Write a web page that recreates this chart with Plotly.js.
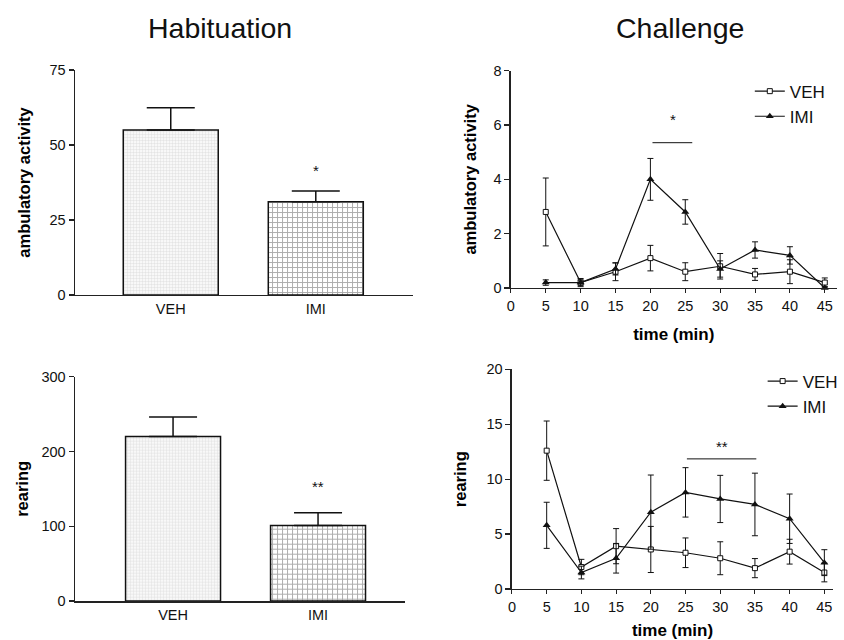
<!DOCTYPE html>
<html>
<head>
<meta charset="utf-8">
<script src="https://cdn.plot.ly/plotly-3.0.1.min.js"></script>
<style>html,body{margin:0;padding:0;background:#fff}#chart{width:844px;height:640px}</style>
</head>
<body>
<div id="chart"></div>
<script>
// ---- data ----
const groups = ["VEH", "IMI"];
const habAmbMean = [55, 31.1];
const habAmbSem = [7.4, 3.6];
const habRearMean = [220, 101];
const habRearSem = [26, 17];

const time = [5, 10, 15, 20, 25, 30, 35, 40, 45];
const ambVEH = [2.8, 0.2, 0.6, 1.1, 0.6, 0.8, 0.5, 0.6, 0.2];
const ambVEHsem = [1.25, 0.15, 0.33, 0.47, 0.33, 0.47, 0.22, 0.44, 0.17];
const ambIMI = [0.2, 0.2, 0.7, 4.0, 2.8, 0.7, 1.4, 1.2, 0.0];
const ambIMIsem = [0.1, 0.1, 0.22, 0.77, 0.45, 0.3, 0.3, 0.32, 0.05];

const rearVEH = [12.6, 2.0, 3.9, 3.6, 3.3, 2.8, 1.9, 3.4, 1.5];
const rearVEHsem = [2.7, 0.7, 1.6, 2.1, 1.35, 1.5, 0.87, 1.13, 0.85];
const rearIMI = [5.8, 1.5, 2.8, 7.0, 8.8, 8.2, 7.7, 6.4, 2.4];
const rearIMIsem = [2.1, 0.58, 1.35, 3.38, 2.25, 2.15, 2.85, 2.25, 1.18];

// significance marks
const sigAmb = {x0: 20.3, x1: 26, y: 5.35, starX: 23.2, starY: 6.2, text: "*"};
const sigRear = {x0: 25.2, x1: 35.2, y: 11.85, starX: 30.3, starY: 13.0, text: "**"};
const sigHabAmb = {x: "IMI", y: 41.5, text: "*"};
const sigHabRear = {x: "IMI", y: 153, text: "**"};

// ---- styles ----
const FONT = "Liberation Sans, Arial, sans-serif";
const barPatterns = [
  {shape: ".", size: 3, solidity: 0.5, fgcolor: "#7a7a7a", bgcolor: "#e4e4e4"},
  {shape: "+", size: 5, solidity: 0.35, fgcolor: "#e2e2e2", bgcolor: "#ababab"}
];

function barTrace(means, sems, xa, ya) {
  return {
    type: "bar", x: groups, y: means, xaxis: xa, yaxis: ya, width: 0.655,
    marker: {color: barPatterns.map(p => p.bgcolor), line: {color: "#111", width: 1.5}, pattern: {
      shape: barPatterns.map(p => p.shape), size: barPatterns.map(p => p.size),
      solidity: barPatterns.map(p => p.solidity), fgcolor: barPatterns.map(p => p.fgcolor),
      bgcolor: barPatterns.map(p => p.bgcolor), fillmode: "replace"}},
    error_y: {type: "data", symmetric: false, array: sems, arrayminus: [0, 0], color: "#111", thickness: 1.5, width: 24},
    showlegend: false, hoverinfo: "skip"
  };
}

function lineTrace(name, y, sem, xa, ya, isVeh, legend) {
  return {
    type: "scatter", mode: "lines+markers", name: name, x: time, y: y, xaxis: xa, yaxis: ya,
    line: {color: "#111", width: 1.2},
    marker: isVeh ? {symbol: "square", size: 5, color: "#fff", line: {color: "#111", width: 1}}
                  : {symbol: "triangle-up", size: 7, color: "#111", line: {color: "#111", width: 0}},
    error_y: {type: "data", array: sem, color: "#111", thickness: 1, width: 3},
    cliponaxis: false, legend: legend, showlegend: true, hoverinfo: "skip"
  };
}

const data = [
  barTrace(habAmbMean, habAmbSem, "x", "y"),
  barTrace(habRearMean, habRearSem, "x3", "y3"),
  lineTrace("VEH", ambVEH, ambVEHsem, "x2", "y2", true, "legend"),
  lineTrace("IMI", ambIMI, ambIMIsem, "x2", "y2", false, "legend"),
  lineTrace("VEH", rearVEH, rearVEHsem, "x4", "y4", true, "legend2"),
  lineTrace("IMI", rearIMI, rearIMIsem, "x4", "y4", false, "legend2")
];

const tickFont = {family: FONT, size: 14.5, color: "#111"};
const titleFont = {family: FONT, size: 16.5, color: "#000", weight: "bold"};

function yAxis(domain, range, dtick, title, anchor, standoff) {
  return {domain: domain, range: range, dtick: dtick, anchor: anchor, showline: true, linecolor: "#222", linewidth: 1.5,
    ticks: "outside", ticklen: 5, tickwidth: 1.2, tickcolor: "#222", showgrid: false, zeroline: false,
    tickfont: tickFont, title: {text: title, font: titleFont, standoff: standoff}, fixedrange: true};
}

const layout = {
  width: 844, height: 640, margin: {l: 0, r: 0, t: 0, b: 0},
  paper_bgcolor: "#fff", plot_bgcolor: "rgba(0,0,0,0)", font: {family: FONT, color: "#111"},
  bargap: 0,
  xaxis: {domain: [0.0889, 0.4893], type: "category", range: [-0.66, 1.67], anchor: "y", showline: true, linecolor: "#222",
    linewidth: 1.5, ticks: "", showgrid: false, tickfont: tickFont, fixedrange: true},
  yaxis: yAxis([0.5391, 0.8906], [0, 75], 25, "ambulatory activity", "x", 14),
  xaxis3: {domain: [0.0889, 0.4799], type: "category", range: [-0.676, 1.6], anchor: "y3", showline: true, linecolor: "#222",
    linewidth: 1.5, ticks: "", showgrid: false, tickfont: tickFont, fixedrange: true},
  yaxis3: yAxis([0.0609, 0.4114], [0, 300], 100, "rearing", "x3", 8),
  xaxis2: {domain: [0.6053, 0.9913], range: [0, 46.7], anchor: "y2", tickvals: [0,5,10,15,20,25,30,35,40,45],
    showline: true, linecolor: "#222", linewidth: 1.2, ticks: "outside", ticklen: 4, tickcolor: "#222", showgrid: false, zeroline: false,
    tickfont: tickFont, title: {text: "time (min)", font: {family: FONT, size: 17, color: "#000", weight: "bold"}, standoff: 15}, fixedrange: true},
  yaxis2: yAxis([0.55, 0.8895], [0, 8], 2, "ambulatory activity", "x2", 12),
  xaxis4: {domain: [0.6066, 0.9870], range: [0, 46.25], anchor: "y4", tickvals: [0,5,10,15,20,25,30,35,40,45],
    showline: true, linecolor: "#222", linewidth: 1.2, ticks: "outside", ticklen: 4, tickcolor: "#222", showgrid: false, zeroline: false,
    tickfont: tickFont, title: {text: "time (min)", font: {family: FONT, size: 17, color: "#000", weight: "bold"}, standoff: 10}, fixedrange: true},
  yaxis4: yAxis([0.0797, 0.4228], [0, 20], 5, "rearing", "x4", 15),
  legend: {x: 0.8884, y: 0.885, xanchor: "left", yanchor: "top", font: {family: FONT, size: 17, color: "#111"},
    bgcolor: "rgba(0,0,0,0)", itemwidth: 30, tracegroupgap: 0},
  legend2: {x: 0.9036, y: 0.432, xanchor: "left", yanchor: "top", font: {family: FONT, size: 17, color: "#111"},
    bgcolor: "rgba(0,0,0,0)", itemwidth: 30, tracegroupgap: 0},
  annotations: [
    {text: "Habituation", xref: "paper", yref: "paper", x: 220/844, y: 1 - 28/640, xanchor: "center", yanchor: "middle", showarrow: false, font: {family: FONT, size: 28.5, color: "#111"}},
    {text: "Challenge", xref: "paper", yref: "paper", x: 680/844, y: 1 - 28/640, xanchor: "center", yanchor: "middle", showarrow: false, font: {family: FONT, size: 28.5, color: "#111"}},
    {text: sigHabAmb.text, xref: "x", yref: "y", x: sigHabAmb.x, y: sigHabAmb.y, showarrow: false, font: {family: FONT, size: 15}},
    {text: sigHabRear.text, xref: "x3", yref: "y3", x: sigHabRear.x, y: sigHabRear.y, showarrow: false, font: {family: FONT, size: 15}},
    {text: sigAmb.text, xref: "x2", yref: "y2", x: sigAmb.starX, y: sigAmb.starY, showarrow: false, font: {family: FONT, size: 15}},
    {text: sigRear.text, xref: "x4", yref: "y4", x: sigRear.starX, y: sigRear.starY, showarrow: false, font: {family: FONT, size: 15}}
  ],
  shapes: [
    {type: "line", xref: "x2", yref: "y2", x0: sigAmb.x0, x1: sigAmb.x1, y0: sigAmb.y, y1: sigAmb.y, line: {color: "#111", width: 1}},
    {type: "line", xref: "x4", yref: "y4", x0: sigRear.x0, x1: sigRear.x1, y0: sigRear.y, y1: sigRear.y, line: {color: "#111", width: 1}}
  ]
};

Plotly.newPlot("chart", data, layout, {staticPlot: true, displayModeBar: false});
</script>
</body>
</html>
